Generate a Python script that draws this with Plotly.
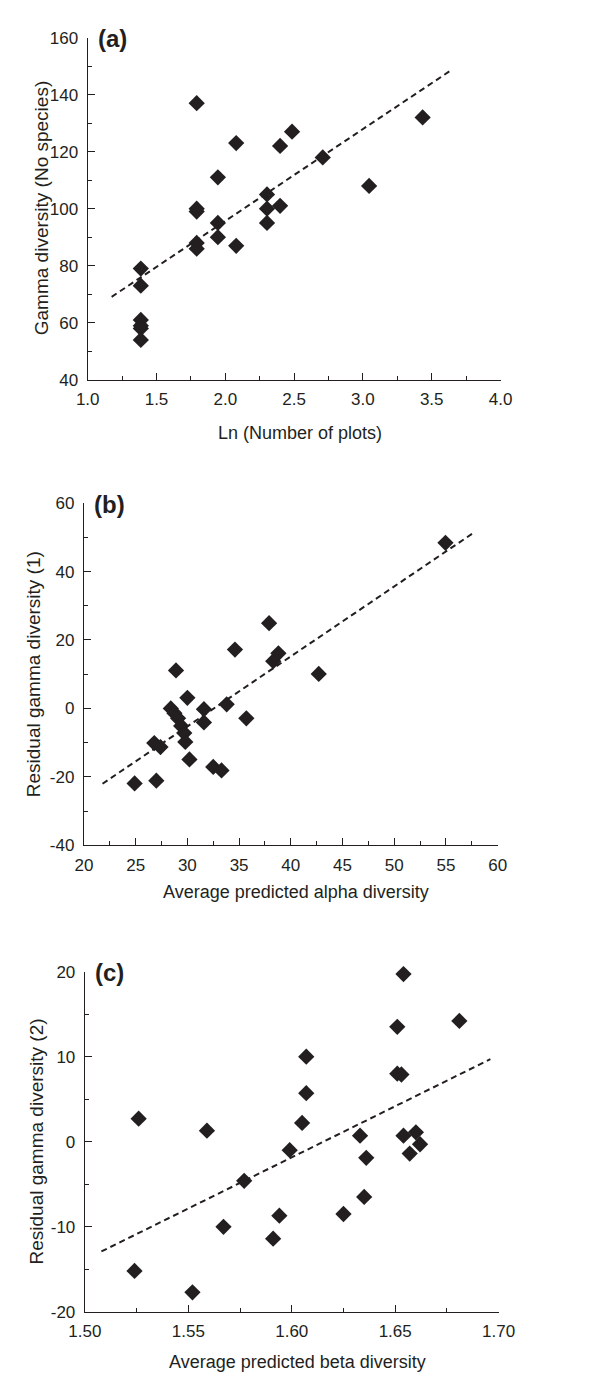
import plotly.graph_objects as go

W, H = 592, 1381
INK = "#231f20"
FONT = "Liberation Sans, Arial, Helvetica, sans-serif"

# ---------------- data ----------------
# (a) Gamma diversity vs ln(number of plots)
a_x = [1.386, 1.386, 1.386, 1.386, 1.386, 1.386,
       1.792, 1.792, 1.792, 1.792, 1.792,
       1.946, 1.946, 1.946,
       2.079, 2.079,
       2.303, 2.303, 2.303,
       2.398, 2.398,
       2.485, 2.708, 3.045, 3.434]
a_y = [79, 73, 61, 59, 58, 54,
       137, 100, 99, 88, 86,
       111, 95, 90,
       123, 87,
       105, 100, 95,
       122, 101,
       127, 118, 108, 132]
a_fit_x = [1.174, 3.642]
a_fit_y = [69.1, 148.6]

# (b) Residual gamma diversity (1) vs average predicted alpha diversity
b_x = [54.95, 37.9, 34.6, 38.8, 38.3, 42.7, 28.9, 30.0, 31.6, 31.6, 33.8, 35.7,
       28.4, 28.75, 29.1, 29.4, 29.7, 29.8, 26.8, 27.4, 30.2, 24.9, 27.0, 32.5, 33.3]
b_y = [48.4, 24.9, 17.2, 16.1, 13.8, 10.1, 11.1, 3.1, -0.2, -4.1, 1.2, -2.9,
       0.0, -1.4, -2.9, -5.1, -7.2, -9.8, -10.1, -11.3, -14.9, -21.9, -21.1, -17.1, -18.1]
b_fit_x = [21.8, 57.8]
b_fit_y = [-22.0, 51.6]

# (c) Residual gamma diversity (2) vs average predicted beta diversity
c_x = [1.654, 1.681, 1.651, 1.651, 1.653, 1.607, 1.607, 1.605, 1.526, 1.559,
       1.599, 1.633, 1.636, 1.654, 1.660, 1.662, 1.657, 1.577, 1.635, 1.625,
       1.594, 1.567, 1.591, 1.524, 1.552]
c_y = [19.7, 14.2, 13.5, 8.0, 7.9, 10.0, 5.7, 2.2, 2.7, 1.3,
       -1.0, 0.7, -1.9, 0.7, 1.1, -0.3, -1.4, -4.6, -6.5, -8.5,
       -8.7, -10.0, -11.4, -15.2, -17.7]
c_fit_x = [1.508, 1.696]
c_fit_y = [-12.9, 9.7]

# tick values / labels
a_xticks = [1.0, 1.5, 2.0, 2.5, 3.0, 3.5, 4.0]
a_xlabels = ["1.0", "1.5", "2.0", "2.5", "3.0", "3.5", "4.0"]
a_yticks = [40, 60, 80, 100, 120, 140, 160]
a_ylabels = ["40", "60", "80", "100", "120", "140", "160"]
b_xticks = [20, 25, 30, 35, 40, 45, 50, 55, 60]
b_xlabels = ["20", "25", "30", "35", "40", "45", "50", "55", "60"]
b_yticks = [-40, -20, 0, 20, 40, 60]
b_ylabels = ["-40", "-20", "0", "20", "40", "60"]
c_xticks = [1.50, 1.55, 1.60, 1.65, 1.70]
c_xlabels = ["1.50", "1.55", "1.60", "1.65", "1.70"]
c_yticks = [-20, -10, 0, 10, 20]
c_ylabels = ["-20", "-10", "0", "10", "20"]

panel_labels = ["(a)", "(b)", "(c)"]
x_titles = ["Ln (Number of plots)", "Average predicted alpha diversity",
            "Average predicted beta diversity"]
y_titles = ["Gamma diversity (No species)", "Residual gamma diversity (1)",
            "Residual gamma diversity (2)"]

# ---------------- layout (pixels in the final page) ----------------
boxes = [  # x0, x1, ytop, ybottom
    (75, 513, 29, 376),
    (71, 510, 501, 848),
    (72, 511, 976, 1321),
]
xtitle_gap = [54, 47, 51]
ytitle_x = [26, 17, 21]
xranges = [[1.0, 4.0], [20, 60], [1.50, 1.70]]
yranges = [[40, 160], [-40, 60], [-20, 20]]
xticks = [(a_xticks, a_xlabels), (b_xticks, b_xlabels), (c_xticks, c_xlabels)]
yticks = [(a_yticks, a_ylabels), (b_yticks, b_ylabels), (c_yticks, c_ylabels)]
xmin = [0.25, 2.5, 0.025]
ymin = [10, 10, 5]


def px(x):
    return x / W


def py(y):
    return 1 - y / H


fig = go.Figure()
series = [(a_x, a_y, a_fit_x, a_fit_y), (b_x, b_y, b_fit_x, b_fit_y),
          (c_x, c_y, c_fit_x, c_fit_y)]

layout = dict(
    width=W, height=H, margin=dict(l=0, r=0, t=0, b=0),
    paper_bgcolor="white", plot_bgcolor="white", showlegend=False,
    font=dict(family=FONT, color=INK, size=17),
)
annotations = []
for i, (sx, sy, fx, fy) in enumerate(series):
    n = "" if i == 0 else str(i + 1)
    xa, ya = "x" + n, "y" + n
    fig.add_trace(go.Scatter(x=fx, y=fy, mode="lines", xaxis=xa, yaxis=ya,
                             cliponaxis=False,
                             line=dict(color=INK, width=2, dash="6px,4px")))
    fig.add_trace(go.Scatter(x=sx, y=sy, mode="markers", xaxis=xa, yaxis=ya,
                             cliponaxis=False,
                             marker=dict(symbol="diamond", size=12.5, color=INK,
                                         line=dict(width=0))))
    x0, x1, yt, yb = boxes[i]
    axcommon = dict(showline=True, linecolor=INK, linewidth=1.3, ticks="inside",
                    tickcolor=INK, tickwidth=1.3, ticklen=7, showgrid=False,
                    zeroline=False, tickfont=dict(family=FONT, size=17, color=INK))
    layout["xaxis" + n] = dict(
        axcommon, domain=[px(x0), px(x1)], range=xranges[i], anchor=ya,
        tickmode="array", tickvals=xticks[i][0], ticktext=xticks[i][1],
        ticklabelstandoff=4,
        minor=dict(ticks="inside", ticklen=4, tickcolor=INK, tickwidth=1.3,
                   dtick=xmin[i], tick0=xranges[i][0]))
    layout["yaxis" + n] = dict(
        axcommon, domain=[py(yb), py(yt)], range=yranges[i], anchor=xa,
        tickmode="array", tickvals=yticks[i][0], ticktext=yticks[i][1],
        ticklabelstandoff=5,
        minor=dict(ticks="inside", ticklen=4, tickcolor=INK, tickwidth=1.3,
                   dtick=ymin[i], tick0=yranges[i][0]))
    # panel label
    annotations.append(dict(text="<b>" + panel_labels[i] + "</b>", xref="paper",
                            yref="paper", x=px(x0 + 9), y=py(yt + 1),
                            xanchor="left", yanchor="middle", showarrow=False,
                            font=dict(family=FONT, size=24, color=INK)))
    # x title
    annotations.append(dict(text=x_titles[i], xref="paper", yref="paper",
                            x=px((x0 + x1) / 2 + 6), y=py(yb + xtitle_gap[i]),
                            xanchor="center", yanchor="middle", showarrow=False,
                            font=dict(family=FONT, size=18, color=INK)))
    # y title
    annotations.append(dict(text=y_titles[i], xref="paper", yref="paper",
                            x=px(ytitle_x[i]), y=py((yt + yb) / 2), textangle=-90,
                            xanchor="center", yanchor="middle", showarrow=False,
                            font=dict(family=FONT, size=19, color=INK)))

layout["annotations"] = annotations
fig.update_layout(**layout)
# remove the browser's default 8px page margin so the figure sits at (0, 0)
fig.write_html("out.html", config={"displayModeBar": False},
               post_script="document.body.style.margin='0';")
